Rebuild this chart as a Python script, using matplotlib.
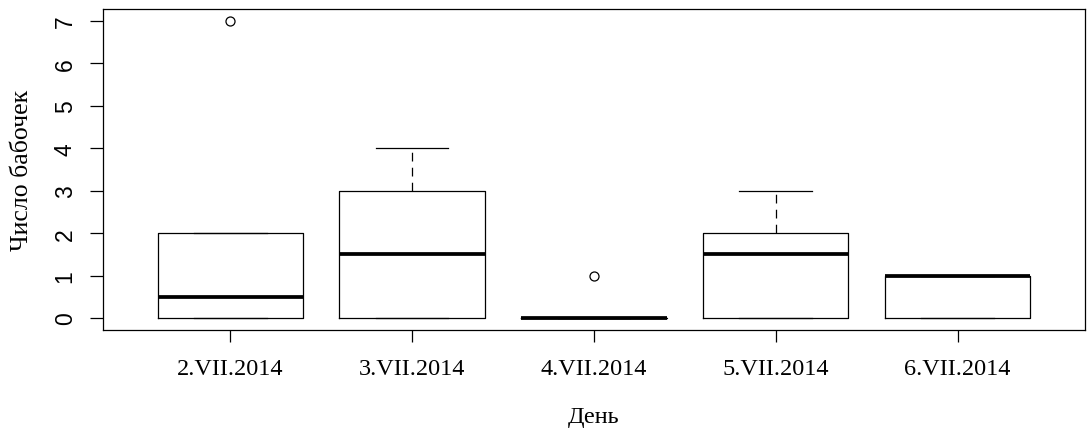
import matplotlib
matplotlib.use('Agg')
import matplotlib.pyplot as plt

# Число бабочек по дням наблюдений (пятичисловые сводки)
days = ['2.VII.2014', '3.VII.2014', '4.VII.2014', '5.VII.2014', '6.VII.2014']
q1 = [0, 0, 0, 0, 0]
medians = [0.5, 1.5, 0, 1.5, 1]
q3 = [2, 3, 0, 2, 1]
whislo = [0, 0, 0, 0, 0]
whishi = [2, 4, 0, 3, 1]
outliers = [[7], [], [1], [], []]

stats = []
for i in range(len(days)):
    stats.append({'label': days[i], 'q1': q1[i], 'med': medians[i], 'q3': q3[i],
                  'whislo': whislo[i], 'whishi': whishi[i], 'fliers': outliers[i]})

serif = 'Liberation Serif'
sans = 'Liberation Sans'

fig = plt.figure(figsize=(10.87, 4.39), dpi=100)
ax = fig.add_axes([0.0948, 0.246, 0.9032, 0.731])

lw = 0.9
ax.bxp(stats, positions=range(1, len(days) + 1), widths=0.8, capwidths=0.4,
       boxprops=dict(color='black', linewidth=lw),
       medianprops=dict(color='black', linewidth=2.7, solid_capstyle='butt'),
       whiskerprops=dict(color='black', linewidth=lw, linestyle=(0, (7, 5))),
       capprops=dict(color='black', linewidth=lw),
       flierprops=dict(marker='o', markerfacecolor='none', markeredgecolor='black',
                       markersize=6.5, markeredgewidth=0.9))

ax.set_xlim(0.3, 5.7)
ax.set_ylim(-0.28, 7.28)

ax.set_yticks(range(0, 8))
ax.set_yticklabels([str(v) for v in range(0, 8)], rotation=90, va='center',
                   family=sans, fontsize=16.5)
ax.set_xticks(range(1, len(days) + 1))
ax.set_xticklabels(days, family=serif, fontsize=17.5)

ax.tick_params(axis='y', length=9.5, width=lw, pad=9.5)
ax.tick_params(axis='x', length=8.5, width=lw, pad=12)
for s in ax.spines.values():
    s.set_linewidth(lw)

ax.set_xlabel('День', family=serif, fontsize=17.5, labelpad=19)
ax.set_ylabel('Число бабочек', family=serif, fontsize=18.5, labelpad=15)

fig.savefig('out.png', dpi=100)
